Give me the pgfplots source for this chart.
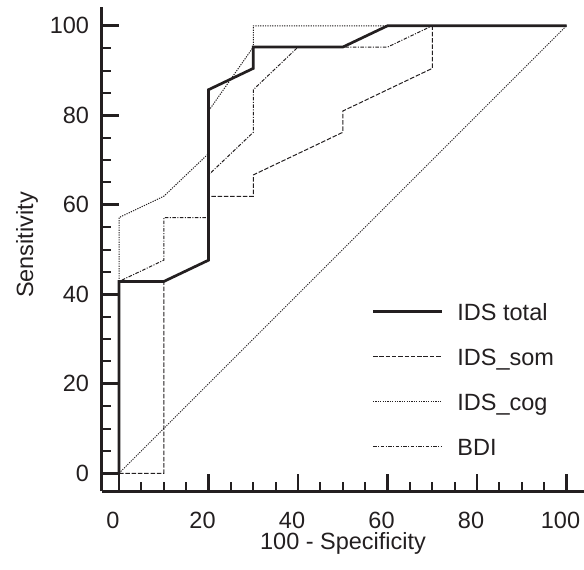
\documentclass[border=0pt]{standalone}
\usepackage{fontspec}
\setmainfont{Liberation Sans}
\usepackage{pgfplots}
\pgfplotsset{compat=1.18}
\definecolor{ink}{RGB}{35,31,32}

\begin{document}
\fontsize{23.5pt}{28pt}\selectfont
\begin{tikzpicture}
\begin{axis}[
    name=ax,
    x=4.475pt, y=4.475pt,
    xmin=-3.87, xmax=104.0,
    ymin=-4.07, ymax=104.13,
    axis x line*=bottom, axis y line*=left,
    axis line style={-, line width=3.3pt, ink},
    xtick={0,20,...,100}, ytick={0,20,...,100},
    minor tick num=3,
    tick align=inside,
    major tick length=17.3pt, minor tick length=9.5pt,
    major tick style={line width=2.7pt, ink},
    minor tick style={line width=2pt, ink},
    /pgf/number format/assume math mode=true,
    xticklabel style={anchor=north, inner sep=0pt, yshift=-20.5pt, xshift=-6pt, text=ink},
    yticklabel style={anchor=east, inner sep=0pt, xshift=-12.5pt, text=ink},
    xlabel={100 - Specificity},
    ylabel={Sensitivity},
    every axis x label/.style={at={(axis description cs:0.5,0)}, yshift=-57.8pt, anchor=base, inner sep=0pt, text=ink},
    every axis y label/.style={at={(axis description cs:0,0.509)}, xshift=-68.6pt, rotate=90, anchor=base, inner sep=0pt, text=ink},
    no marks,
    legend cell align=left,
    legend image code/.code={\draw[#1] (0pt,2.8pt) -- (69pt,2.8pt);},
    legend style={draw=none, fill=none, at={(axis description cs:0.5594,0.3893)}, anchor=north west,
        inner sep=0pt, outer sep=0pt, row sep=23pt, column sep=14pt,
        nodes={inner sep=0pt, text height=17pt, text depth=5pt, text=ink}},
]

% reference diagonal
\addplot[ink, line width=0.9pt, dash pattern=on 1.2pt off 1.2pt, forget plot]
    coordinates {(0,0) (100,100)};

% IDS total
\addplot[ink, line width=2.7pt] coordinates {
    (0,0) (0,42.86) (10,42.86) (20,47.62) (20,85.71) (30,90.48)
    (30,95.24) (50,95.24) (60,100) (100,100)
};
% IDS_som
\addplot[ink, line width=1pt, dash pattern=on 4.5pt off 1.8pt] coordinates {
    (0,0) (10,0) (10,42.86) (20,47.62) (20,61.90) (30,61.90) (30,66.67)
    (50,76.19) (50,80.95) (70,90.48) (70,100) (100,100)
};
% IDS_cog
\addplot[ink, line width=1pt, dash pattern=on 1.2pt off 1.2pt] coordinates {
    (0,0) (0,57.14) (10,61.90) (20,71.43) (20,80.95) (30,95.24)
    (30,100) (100,100)
};
% BDI
\addplot[ink, line width=1pt, dash pattern=on 3.5pt off 1.5pt on 1pt off 1.5pt] coordinates {
    (0,0) (0,42.86) (10,47.62) (10,57.14) (20,57.14) (20,66.67) (30,76.19)
    (30,85.71) (40,95.24) (60,95.24) (70,100) (100,100)
};
\legend{IDS total, IDS\_som, IDS\_cog, BDI}
\end{axis}
\pgfresetboundingbox
\path[use as bounding box] ([shift={(-101.7pt,-78.5pt)}]ax.south west)
    rectangle ([shift={(482.3pt,491.5pt)}]ax.south west);
\end{tikzpicture}
\end{document}
